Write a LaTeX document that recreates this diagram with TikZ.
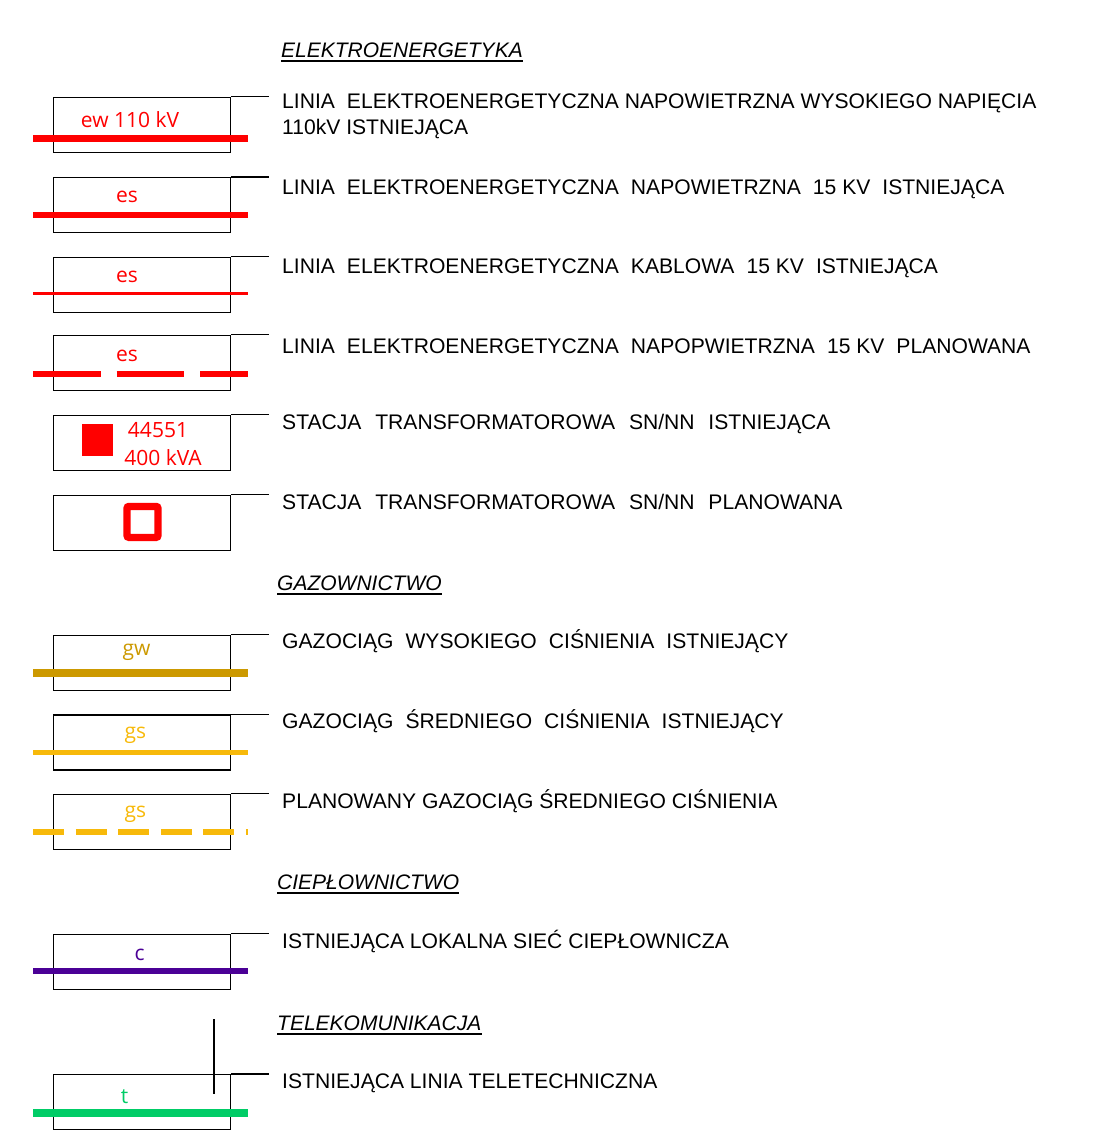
\documentclass[tikz,border=0pt]{standalone}
\usepackage{fontspec}
\setmainfont{Liberation Sans}
\newfontfamily\labfont{Open Sans}
\newcommand\dsp{\hspace{12pt}}
\newcommand\dspw{\hspace{13.8pt}}
\definecolor{elred}{HTML}{FF0000}
\definecolor{gasdark}{HTML}{CC9900}
\definecolor{gaslight}{HTML}{F7B90A}
\definecolor{heatc}{HTML}{4B0096}
\definecolor{telc}{HTML}{00CC66}
\begin{document}
\begin{tikzpicture}[x=1pt,y=-1pt,
  legbox/.style={draw=black, line width=1.4pt, minimum width=177.5pt, minimum height=55pt, inner sep=0pt, anchor=north west},
  tick/.style={line width=1.4pt},
  desc/.style={anchor=base west, inner sep=0pt, font=\fontsize{21.1}{26}\selectfont},
  head/.style={anchor=base west, inner sep=0pt, font=\fontsize{21}{26}\selectfont\itshape},
  uline/.style={line width=1.2pt},
  lab/.style={anchor=base, inner sep=0pt, font=\labfont\fontsize{21}{28}\selectfont}]
\useasboundingbox (0,0) rectangle (1100,1135);

% ---------------- ELEKTROENERGETYKA
\node[head] (h1) at (281,57.5) {ELEKTROENERGETYKA};
\draw[uline] ([yshift=-3.5pt]h1.base west) -- ([yshift=-3.5pt]h1.base east);

% row 1
\node[legbox] (b1) at (52.5,96.5) {};
\draw[tick] (b1.north east) -- ++(38,0);
\draw[elred, line width=7pt] (33.3,138) -- (248.3,138);
\node[lab, text=elred] (l1) at (130,127) {ew 110 kV};
\node[desc] (d1a) at (282,108.5) {LINIA\dsp ELEKTROENERGETYCZNA NAPOWIETRZNA WYSOKIEGO NAPIĘCIA};
\node[desc] (d1b) at (282,134.5) {110kV ISTNIEJĄCA};

% row 2
\node[legbox] (b2) at (52.5,177) {};
\draw[tick] (b2.north east) -- ++(38,0);
\draw[elred, line width=6pt] (33.3,214.7) -- (248.3,214.7);
\node[lab, text=elred] (l2) at (127,202) {es};
\node[desc] (d2) at (282,194.5) {LINIA\dsp ELEKTROENERGETYCZNA\dsp NAPOWIETRZNA\dsp 15 KV\dsp ISTNIEJĄCA};

% row 3
\node[legbox] (b3) at (52.5,256.5) {};
\draw[tick] (b3.north east) -- ++(38,0);
\draw[elred, line width=3pt] (33.3,293.5) -- (248.3,293.5);
\node[lab, text=elred] (l3) at (127,282) {es};
\node[desc] (d3) at (282,273.5) {LINIA\dsp ELEKTROENERGETYCZNA\dsp KABLOWA\dsp 15 KV\dsp ISTNIEJĄCA};

% row 4
\node[legbox] (b4) at (52.5,334.5) {};
\draw[tick] (b4.north east) -- ++(38,0);
\draw[elred, line width=6pt, dash pattern=on 67.7pt off 15.7pt] (33.3,373.7) -- (248.3,373.7);
\node[lab, text=elred] (l4) at (127,361) {es};
\node[desc] (d4) at (282,353.5) {LINIA\dsp ELEKTROENERGETYCZNA\dsp NAPOPWIETRZNA\dsp 15 KV\dsp PLANOWANA};

% row 5
\node[legbox] (b5) at (52.5,414.5) {};
\draw[tick] (b5.north east) -- ++(38,0);
\fill[elred] (82,424.3) rectangle (112.7,456);
\node[lab, text=elred] (l5a) at (158,437) {44551};
\node[lab, text=elred] (l5b) at (163,465.5) {400 kVA};
\node[desc] (d5) at (282,429.5) {STACJA\dspw TRANSFORMATOROWA\dspw SN/NN\dspw ISTNIEJĄCA};

% row 6
\node[legbox] (b6) at (52.5,494.5) {};
\draw[tick] (b6.north east) -- ++(38,0);
\draw[elred, line width=7.3pt, rounded corners=2pt] (127,506.4) rectangle (158,537.4);
\node[desc] (d6) at (282,509.5) {STACJA\dspw TRANSFORMATOROWA\dspw SN/NN\dspw PLANOWANA};

% ---------------- GAZOWNICTWO
\node[head] (h2) at (277,590.5) {GAZOWNICTWO};
\draw[uline] ([yshift=-3.5pt]h2.base west) -- ([yshift=-3.5pt]h2.base east);

% row 7
\node[legbox] (b7) at (52.5,634.5) {};
\draw[tick] (b7.north east) -- ++(38,0);
\draw[gasdark, line width=7.5pt] (33.3,672.8) -- (248.3,672.8);
\node[lab, text=gasdark] (l7) at (136.5,655) {gw};
\node[desc] (d7) at (282,648.5) {GAZOCIĄG\dsp WYSOKIEGO\dsp CIŚNIENIA\dsp ISTNIEJĄCY};

% row 8
\node[legbox] (b8) at (52.5,714.3) {};
\draw[tick] (b8.north east) -- ++(38,0);
\draw[gaslight, line width=5.3pt] (33.3,752.7) -- (248.3,752.7);
\node[lab, text=gaslight] (l8) at (135.5,738) {gs};
\node[desc] (d8) at (282,728.5) {GAZOCIĄG\dsp ŚREDNIEGO\dsp CIŚNIENIA\dsp ISTNIEJĄCY};

% row 9
\node[legbox] (b9) at (52.5,793.7) {};
\draw[tick] (b9.north east) -- ++(38,0);
\draw[gaslight, line width=5.7pt, dash pattern=on 31pt off 11.5pt] (33.3,832.2) -- (248.3,832.2);
\node[lab, text=gaslight] (l9) at (135.5,817) {gs};
\node[desc] (d9) at (282,808.5) {PLANOWANY GAZOCIĄG ŚREDNIEGO CIŚNIENIA};

% ---------------- CIEPŁOWNICTWO
\node[head] (h3) at (277,889.5) {CIEPŁOWNICTWO};
\draw[uline] ([yshift=-3.5pt]h3.base west) -- ([yshift=-3.5pt]h3.base east);

% row 10
\node[legbox] (b10) at (52.5,933.5) {};
\draw[tick] (b10.north east) -- ++(38,0);
\draw[heatc, line width=6.7pt] (33.3,971) -- (248.3,971);
\node[lab, text=heatc] (l10) at (139.5,960) {c};
\node[desc] (d10) at (282,948.5) {ISTNIEJĄCA LOKALNA SIEĆ CIEPŁOWNICZA};

% ---------------- TELEKOMUNIKACJA
\node[head] (h4) at (277,1030.5) {TELEKOMUNIKACJA};
\draw[uline] ([yshift=-3.5pt]h4.base west) -- ([yshift=-3.5pt]h4.base east);

% row 11
\node[legbox] (b11) at (52.5,1074) {};
\draw[tick] (b11.north east) -- ++(38,0);
\coordinate (v1) at (214,1019);
\coordinate (v2) at (214,1094.3);
\draw[tick] (v1) -- (v2);
\draw[telc, line width=7.3pt] (33.3,1113) -- (248.3,1113);
\node[lab, text=telc] (l11) at (124.5,1103) {t};
\node[desc] (d11) at (282,1088.5) {ISTNIEJĄCA LINIA TELETECHNICZNA};
\end{tikzpicture}
\end{document}
